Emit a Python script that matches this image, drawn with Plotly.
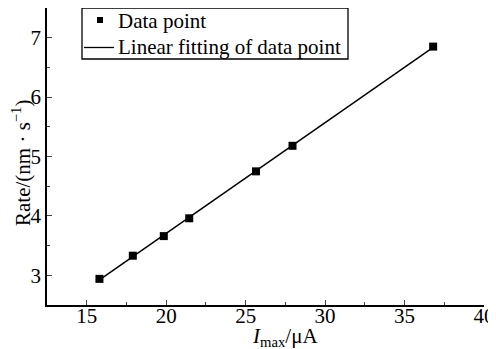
import numpy as np
import plotly.graph_objects as go

current = [15.8, 17.9, 19.85, 21.45, 25.65, 27.95, 36.8]
rate = [2.94, 3.33, 3.66, 3.96, 4.75, 5.18, 6.85]
x_ticks = [15, 20, 25, 30, 35, 40]
y_ticks = [3, 4, 5, 6, 7]
legend_labels = ["Data point", "Linear fitting of data point"]

slope, intercept = np.polyfit(current, rate, 1)
fit_x = [min(current), max(current)]
fit_y = [slope * v + intercept for v in fit_x]

FONT = "Liberation Serif, Times New Roman, serif"
FS = 21

fig = go.Figure()
fig.add_trace(go.Scatter(x=current, y=rate, mode="markers", name=legend_labels[0],
                         marker=dict(symbol="square", size=8, color="black")))
fig.add_trace(go.Scatter(x=fit_x, y=fit_y, mode="lines", name=legend_labels[1],
                         line=dict(color="black", width=1.5)))

# plot area in page pixels: x 47..484, y 8..305 (page has 8px body margin)
def px(X):
    return (X - 47) / 437.0

def py(Y):
    return (305 - Y) / 297.0

shapes = [
    dict(type="rect", xref="paper", yref="paper", x0=px(82), x1=px(348), y0=py(59), y1=py(8),
         line=dict(color="black", width=1.3), fillcolor="white", layer="above"),
    dict(type="rect", xref="paper", yref="paper", x0=px(97), x1=px(103), y0=py(23), y1=py(17),
         line=dict(color="black", width=0), fillcolor="black", layer="above"),
    dict(type="line", xref="paper", yref="paper", x0=px(84), x1=px(114), y0=py(47.5), y1=py(47.5),
         line=dict(color="black", width=1.3), layer="above"),
]

annotations = [
    dict(text=legend_labels[0], xref="paper", yref="paper", x=px(116), y=py(21),
         showarrow=False, xanchor="left", yanchor="middle", font=dict(size=FS)),
    dict(text=legend_labels[1], xref="paper", yref="paper", x=px(116), y=py(47),
         showarrow=False, xanchor="left", yanchor="middle", font=dict(size=FS)),
    dict(text="Rate/(nm · s<sup>−1</sup>)", xref="paper", yref="paper",
         x=px(21), y=py(163), textangle=-90, showarrow=False,
         xanchor="center", yanchor="middle", font=dict(size=FS)),
    dict(text="<i>I</i><sub>max</sub>/μA", xref="paper", yref="paper",
         x=px(285), y=py(337), showarrow=False,
         xanchor="center", yanchor="middle", font=dict(size=FS)),
]

fig.update_layout(
    width=488, height=341,
    margin=dict(l=39, r=12, t=0, b=44, autoexpand=False),
    paper_bgcolor="white", plot_bgcolor="white",
    font=dict(family=FONT, size=FS, color="black"),
    showlegend=False,
    shapes=shapes,
    annotations=annotations,
)
fig.update_xaxes(range=[12.5, 40], tickvals=x_ticks, ticks="inside", ticklen=5,
                 minor=dict(ticks="inside", ticklen=3, dtick=2.5, tick0=12.5),
                 showline=True, linecolor="black", linewidth=1.5, showgrid=False, zeroline=False,
                 tickfont=dict(size=FS), automargin=False, ticklabelstandoff=-9)
fig.update_yaxes(range=[2.5, 7.5], tickvals=y_ticks, ticks="inside", ticklen=5,
                 minor=dict(ticks="inside", ticklen=3, dtick=0.5, tick0=2.5),
                 showline=True, linecolor="black", linewidth=1.5, showgrid=False, zeroline=False,
                 tickfont=dict(size=FS), automargin=False)

fig.write_html("out.html")
